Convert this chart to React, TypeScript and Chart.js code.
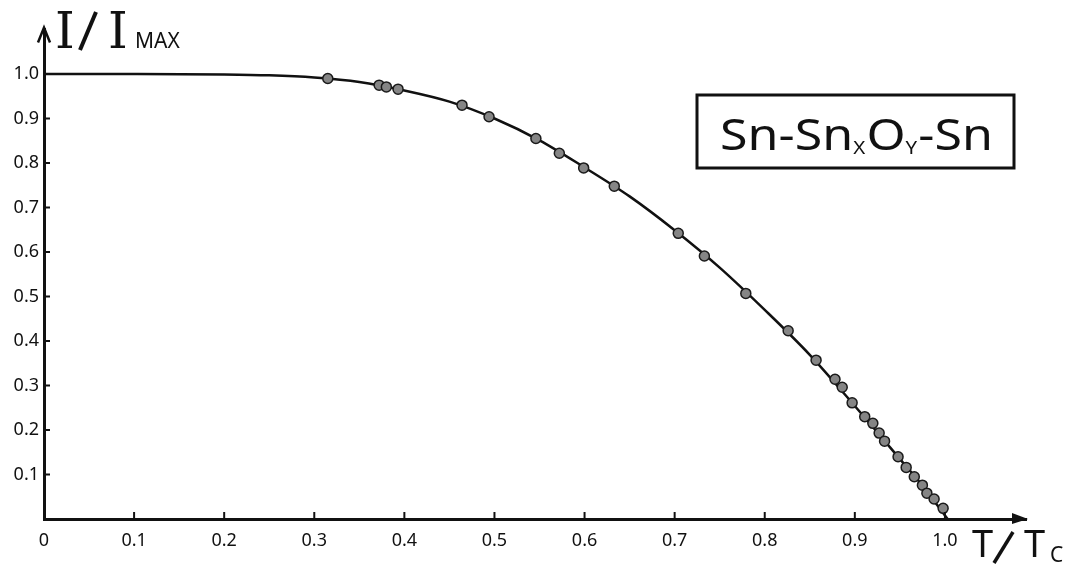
import React, { useEffect, useRef } from 'react';
import { Chart, registerables } from 'chart.js';

Chart.register(...registerables);

// Fitted curve I/Imax vs T/Tc
const curveT = [0, 0.1, 0.2, 0.25, 0.3, 0.35, 0.4, 0.45, 0.5, 0.55, 0.6, 0.65, 0.7, 0.75, 0.8, 0.85, 0.9, 0.95, 0.975, 1.003];
const curveI = [1.0, 1.0, 0.999, 0.997, 0.992, 0.982, 0.963, 0.938, 0.9, 0.851, 0.79, 0.725, 0.649, 0.565, 0.47, 0.369, 0.254, 0.135, 0.075, 0.0];

// Measured points
const pointT = [0.315, 0.372, 0.38, 0.393, 0.464, 0.494, 0.546, 0.572, 0.599, 0.633, 0.704, 0.733, 0.779, 0.826, 0.857, 0.878, 0.886, 0.897, 0.911, 0.92, 0.927, 0.933, 0.948, 0.957, 0.966, 0.975, 0.98, 0.988, 0.998];
const pointI = [0.99, 0.975, 0.971, 0.966, 0.93, 0.904, 0.855, 0.822, 0.789, 0.748, 0.642, 0.591, 0.507, 0.423, 0.357, 0.314, 0.296, 0.261, 0.23, 0.215, 0.193, 0.175, 0.14, 0.116, 0.095, 0.076, 0.058, 0.045, 0.024];

const xTickValues = [0, 0.1, 0.2, 0.3, 0.4, 0.5, 0.6, 0.7, 0.8, 0.9, 1.0];
const xTickLabels = ['0', '0.1', '0.2', '0.3', '0.4', '0.5', '0.6', '0.7', '0.8', '0.9', '1.0'];
const yTickValues = [0.1, 0.2, 0.3, 0.4, 0.5, 0.6, 0.7, 0.8, 0.9, 1.0];
const yTickLabels = ['0.1', '0.2', '0.3', '0.4', '0.5', '0.6', '0.7', '0.8', '0.9', '1.0'];

const legendParts: [string, boolean][] = [
  ['Sn', false], ['-', false], ['Sn', false], ['X', true], ['O', false], ['Y', true], ['-', false], ['Sn', false],
];

const SANS = '"Noto Sans", "DejaVu Sans", sans-serif';

export default function App() {
  const ref = useRef<HTMLCanvasElement>(null);

  useEffect(() => {
    const canvas = ref.current!;
    const overlay = {
      id: 'overlay',
      afterDraw(chart: any) {
        const ctx = chart.ctx as CanvasRenderingContext2D;
        const xs = chart.scales.x;
        const ys = chart.scales.y;
        const x0 = xs.getPixelForValue(0);
        const y0 = ys.getPixelForValue(0);
        const yTop = ys.getPixelForValue(ys.max);
        const xRight = xs.getPixelForValue(xs.max);
        ctx.save();
        ctx.strokeStyle = '#111';
        ctx.fillStyle = '#111';
        ctx.lineCap = 'butt';
        // inward ticks
        ctx.lineWidth = 2;
        xTickValues.forEach((v) => {
          if (v === 0) return;
          const px = xs.getPixelForValue(v);
          ctx.beginPath();
          ctx.moveTo(px, y0);
          ctx.lineTo(px, y0 - 7);
          ctx.stroke();
        });
        yTickValues.forEach((v) => {
          if (v >= 1) return;
          const py = ys.getPixelForValue(v);
          ctx.beginPath();
          ctx.moveTo(x0, py);
          ctx.lineTo(x0 + 6, py);
          ctx.stroke();
        });
        // y arrow
        ctx.lineWidth = 2.5;
        ctx.beginPath();
        ctx.moveTo(x0 - 6, yTop + 13);
        ctx.lineTo(x0, yTop - 2);
        ctx.lineTo(x0 + 6, yTop + 13);
        ctx.stroke();
        // x arrow
        ctx.beginPath();
        ctx.moveTo(xRight + 2, y0);
        ctx.lineTo(xRight - 14, y0 - 6);
        ctx.lineTo(xRight - 14, y0 + 5);
        ctx.closePath();
        ctx.fill();

        // y title I/I MAX
        ctx.textBaseline = 'alphabetic';
        ctx.textAlign = 'center';
        ctx.font = '50px "DejaVu Serif", serif';
        ctx.fillText('I', 65, 48);
        ctx.fillText('I', 118, 48);
        ctx.lineWidth = 4;
        ctx.beginPath();
        ctx.moveTo(96, 12);
        ctx.lineTo(80, 50);
        ctx.stroke();
        ctx.textAlign = 'left';
        ctx.font = '21px ' + SANS;
        ctx.fillText('MAX', 135, 48);

        // x title T/Tc
        ctx.font = '38px ' + SANS;
        ctx.textAlign = 'left';
        ctx.fillText('T', 972, 557);
        ctx.fillText('T', 1024, 557);
        ctx.lineWidth = 3.5;
        ctx.beginPath();
        ctx.moveTo(1013, 532);
        ctx.lineTo(994, 563);
        ctx.stroke();
        ctx.font = '21px ' + SANS;
        ctx.fillText('C', 1050, 562);

        // legend box
        ctx.lineWidth = 3;
        ctx.beginPath();
        ctx.rect(697, 95, 317, 73);
        ctx.stroke();
        // legend text
        const big = '44px ' + SANS;
        const small = '18px ' + SANS;
        let total = 0;
        legendParts.forEach(([t, sub]) => {
          ctx.font = sub ? small : big;
          total += ctx.measureText(t).width + (sub ? 1 : 0);
        });
        const k = 273 / total;
        ctx.translate(720, 0);
        ctx.scale(k, 1);
        let cx = 0;
        legendParts.forEach(([t, sub]) => {
          ctx.font = sub ? small : big;
          ctx.fillText(t, cx, sub ? 154 : 150);
          cx += ctx.measureText(t).width + (sub ? 1 : 0);
        });
        ctx.restore();
      },
    };

    const chart = new Chart(canvas, {
      type: 'scatter',
      data: {
        datasets: [
          {
            type: 'line',
            data: curveT.map((t, i) => ({ x: t, y: curveI[i] })),
            borderColor: '#111',
            borderWidth: 2.5,
            pointRadius: 0,
            fill: false,
            cubicInterpolationMode: 'monotone',
            order: 2,
          } as any,
          {
            type: 'scatter',
            data: pointT.map((t, i) => ({ x: t, y: pointI[i] })),
            pointRadius: 5,
            backgroundColor: '#858585',
            borderColor: '#1a1a1a',
            borderWidth: 1.5,
            order: 1,
          },
        ],
      },
      options: {
        animation: false,
        responsive: true,
        maintainAspectRatio: false,
        layout: { padding: { top: 29.5, right: 45, left: 0, bottom: 0 } },
        plugins: { legend: { display: false }, tooltip: { enabled: false } },
        scales: {
          x: {
            type: 'linear',
            min: 0,
            max: 1.09,
            grid: { display: true, drawOnChartArea: false, drawTicks: false },
            border: { display: true, color: '#111', width: 3 },
            ticks: {
              padding: 11,
              color: '#111',
              maxRotation: 0,
              autoSkip: false,
              font: { family: SANS, size: 18 },
              callback: (v: any) => {
                const i = xTickValues.findIndex((t) => Math.abs(t - v) < 1e-6);
                return i >= 0 ? xTickLabels[i] : '';
              },
            },
            afterBuildTicks: (s: any) => {
              s.ticks = xTickValues.map((value) => ({ value }));
            },
            afterFit: (s: any) => {
              s.height = 46;
            },
          },
          y: {
            type: 'linear',
            min: 0,
            max: 1.1,
            grid: { display: true, drawOnChartArea: false, drawTicks: false },
            border: { display: true, color: '#111', width: 3 },
            ticks: {
              padding: 5,
              color: '#111',
              autoSkip: false,
              font: { family: SANS, size: 18 },
              callback: (v: any) => {
                const i = yTickValues.findIndex((t) => Math.abs(t - v) < 1e-6);
                return i >= 0 ? yTickLabels[i] : '';
              },
            },
            afterBuildTicks: (s: any) => {
              s.ticks = yTickValues.map((value) => ({ value }));
            },
            afterFit: (s: any) => {
              s.width = 44;
            },
          },
        },
      },
      plugins: [overlay],
    } as any);
    return () => chart.destroy();
  }, []);

  return (
    <div style={{ position: 'absolute', left: 0, top: 0, width: 1071, height: 565, background: '#fff' }}>
      <canvas ref={ref} />
    </div>
  );
}
